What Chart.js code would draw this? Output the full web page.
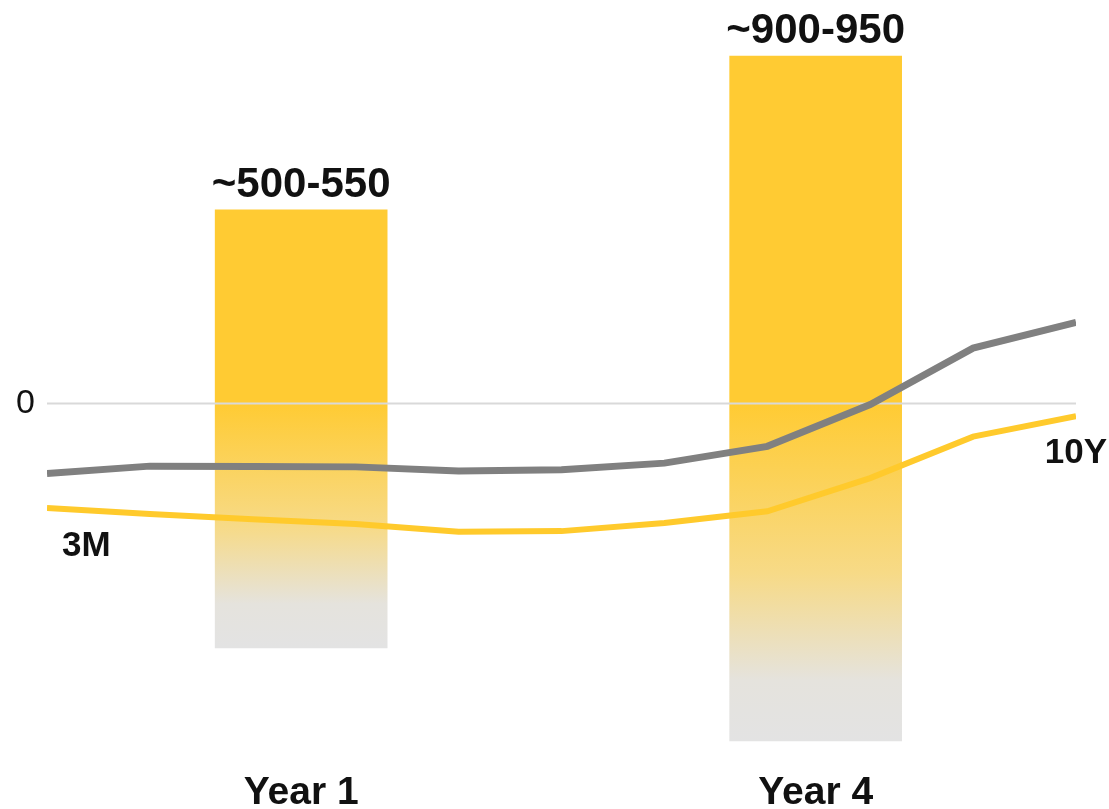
<!DOCTYPE html>
<html>
<head>
<meta charset="utf-8">
<script src="https://cdn.jsdelivr.net/npm/chart.js@4"></script>
<style>
    html, body { margin: 0; padding: 0; background: #fff; }
    #wrap { width: 1109px; height: 809px; position: relative; }
</style>
</head>
<body>
<div id="wrap"><canvas id="curve"></canvas></div>
<script>
// x positions run 0..10 along the curve
const curvePoints = [0, 1, 2, 3, 4, 5, 6, 7, 8, 9, 10];
const grayCurve = [-188, -168, -169, -170, -181, -178, -160, -115, -3, 148, 217];
const yellowCurve = [-280, -296, -310, -323, -344, -342, -320, -289, -200, -89, -34];

const yearLabels = ['Year 1', 'Year 4'];
const yearPositions = [2.47, 7.47];
const barRanges = [[-655, 518], [-904, 930]];
const barLabels = ['~500-550', '~900-950'];

const startLabel = '3M';
const endLabel = '10Y';

const YELLOW = '#FFCB33';
const GRAY = '#808080';
const FONT = '"Liberation Sans", Arial, sans-serif';

function barFill(context) {
    const chart = context.chart;
    if (!chart.chartArea) {
        return YELLOW;
    }
    const y = chart.scales.y;
    const raw = context.raw;
    const top = y.getPixelForValue(0);
    const bottom = y.getPixelForValue(raw.y[0]);
    const g = chart.ctx.createLinearGradient(0, top, 0, bottom);
    g.addColorStop(0, YELLOW);
    g.addColorStop(0.5, '#F7DA86');
    g.addColorStop(0.82, '#E5E3DD');
    g.addColorStop(1, '#E3E3E3');
    return g;
}

const textLabels = {
    id: 'textLabels',
    afterDatasetsDraw(chart) {
        const { ctx, scales } = chart;
        ctx.save();
        ctx.fillStyle = '#111';

        // range labels over the bars
        ctx.font = 'bold 42px ' + FONT;
        ctx.textAlign = 'center';
        ctx.textBaseline = 'alphabetic';
        barRanges.forEach((range, i) => {
            const x = scales.x.getPixelForValue(yearPositions[i]);
            const top = scales.y.getPixelForValue(range[1]);
            ctx.fillText(barLabels[i], x, top - 13);
        });

        // tenor tags at both ends of the curves
        ctx.font = 'bold 35px ' + FONT;
        ctx.textBaseline = 'middle';
        const firstX = scales.x.getPixelForValue(curvePoints[0]);
        const firstY = scales.y.getPixelForValue(yellowCurve[0]);
        ctx.textAlign = 'left';
        ctx.fillText(startLabel, firstX + 15, firstY + 38);

        const last = curvePoints.length - 1;
        const lastX = scales.x.getPixelForValue(curvePoints[last]);
        const lastY = scales.y.getPixelForValue(yellowCurve[last]);
        ctx.textAlign = 'right';
        ctx.fillText(endLabel, lastX + 31, lastY + 37);

        ctx.restore();
    },
};

const toPoints = (values) => values.map((v, i) => ({ x: curvePoints[i], y: v }));

new Chart(document.getElementById('curve'), {
    type: 'bar',
    data: {
        datasets: [
            {
                type: 'line',
                data: toPoints(grayCurve),
                borderColor: GRAY,
                borderWidth: 7,
                pointRadius: 0,
                tension: 0,
                order: 1,
            },
            {
                type: 'line',
                data: toPoints(yellowCurve),
                borderColor: '#FFCA2C',
                borderWidth: 6,
                pointRadius: 0,
                tension: 0,
                order: 1,
            },
            {
                // zero reference line
                type: 'line',
                data: [{ x: curvePoints[0], y: 0 }, { x: curvePoints[curvePoints.length - 1], y: 0 }],
                borderColor: '#D9D9D9',
                borderWidth: 2,
                pointRadius: 0,
                order: 2,
            },
            {
                type: 'bar',
                data: barRanges.map((r, i) => ({ x: yearPositions[i], y: r })),
                backgroundColor: barFill,
                borderWidth: 0,
                barThickness: 172,
                order: 3,
            },
        ],
    },
    options: {
        responsive: true,
        maintainAspectRatio: false,
        animation: false,
        layout: {
            padding: { top: 0, right: 33, bottom: 0, left: 0 },
        },
        plugins: {
            legend: { display: false },
            tooltip: { enabled: false },
        },
        scales: {
            x: {
                type: 'linear',
                min: 0,
                max: 10,
                offset: false,
                grid: { display: false, drawTicks: false },
                border: { display: false },
                afterBuildTicks(scale) {
                    scale.ticks = yearPositions.map((v) => ({ value: v }));
                },
                afterFit(scale) {
                    scale.height = 62;
                    scale.paddingLeft = 0;
                    scale.paddingRight = 0;
                },
                ticks: {
                    padding: 23,
                    maxRotation: 0,
                    autoSkip: false,
                    color: '#111',
                    font: { family: FONT, size: 39, weight: 'bold' },
                    callback(value) {
                        const i = yearPositions.indexOf(value);
                        return i >= 0 ? yearLabels[i] : '';
                    },
                },
            },
            y: {
                min: -920,
                max: 1080,
                grid: { display: false, drawTicks: false },
                border: { display: false },
                afterBuildTicks(scale) {
                    scale.ticks = [{ value: 0 }];
                },
                afterFit(scale) {
                    scale.width = 47;
                    scale.paddingTop = 0;
                    scale.paddingBottom = 0;
                },
                ticks: {
                    padding: 12,
                    color: '#111',
                    font: { family: FONT, size: 34 },
                    callback: (value) => String(value),
                },
            },
        },
    },
    plugins: [textLabels],
});
</script>
</body>
</html>
